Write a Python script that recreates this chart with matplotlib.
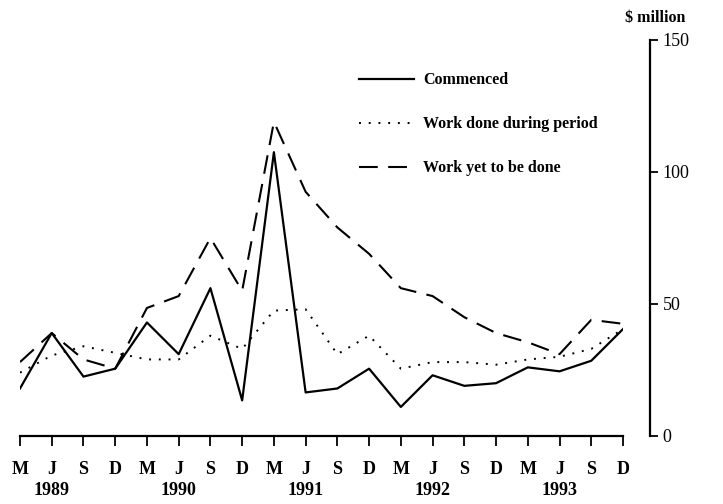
import matplotlib
matplotlib.use("Agg")
import matplotlib.pyplot as plt

quarters = ["M", "J", "S", "D"] * 5
years = ["1989", "1990", "1991", "1992", "1993"]

commenced = [18, 39, 22.5, 25.5, 43, 31, 56, 13.5, 107.5, 16.5, 18,
             25.5, 11, 23, 19, 20, 26, 24.5, 28.5, 40.5]
work_done = [24, 30.5, 34, 31.5, 29, 29, 38, 33, 47.5, 48, 31,
             38, 25.5, 28, 28, 27, 29, 30, 33, 40.5]
work_yet = [28, 39, 29, 25.5, 48.5, 53, 75, 55, 119, 92.5, 79,
            69, 56, 53, 45, 39, 35.5, 31, 44, 42.5]

plt.rcParams['font.family'] = ['Liberation Serif', 'DejaVu Serif']

W, H = 723, 504
fig = plt.figure(figsize=(W / 100, H / 100), dpi=100)
x0_px, x1_px = 20, 623
y0_px, y150_px = 436, 40
ax = fig.add_axes([x0_px / W, (H - y0_px) / H, (x1_px - x0_px) / W, (y0_px - y150_px) / H])

x = list(range(len(commenced)))
ax.plot(x, commenced, color='black', lw=1.6, ls='-', label='Commenced')
ax.plot(x, work_done, color='black', lw=1.4, ls=(0, (1, 4)), label='Work done during period')
ax.plot(x, work_yet, color='black', lw=1.5, ls=(0, (9, 5)), label='Work yet to be done')

ax.set_xlim(0, 19)
ax.set_ylim(0, 150)

# x axis
labels = []
for i, q in enumerate(quarters):
    if q == "J":
        labels.append(q + "\n" + years[i // 4])
    else:
        labels.append(q)
ax.set_xticks(x)
ax.set_xticklabels(labels, fontsize=13, fontweight='bold', linespacing=1.3)
ax.tick_params(axis='x', direction='out', length=7, width=1.3, pad=11)
ax.spines['bottom'].set_bounds(0, 19)
ax.spines['bottom'].set_linewidth(1.6)
ax.spines['top'].set_visible(False)
ax.spines['left'].set_visible(False)
ax.tick_params(axis='y', left=False, labelleft=False, right=True, labelright=True,
               direction='out', length=6, width=1.3, labelsize=13, pad=3)
ax.set_yticks([0, 50, 100, 150])
for t in ax.get_yticklabels():
    t.set_fontweight('bold')
right_x = 19 + (650 - x1_px) / ((x1_px - x0_px) / 19)
ax.spines['right'].set_position(('data', right_x))
ax.spines['right'].set_linewidth(1.6)
fig.text(655 / W, 1 - 18 / H, "$ million", fontsize=11.5, fontweight='bold',
         ha='center', va='center')

leg = ax.legend(loc='upper left', bbox_to_anchor=(345 / W, 1 - 58 / H),
                bbox_transform=fig.transFigure, frameon=False, fontsize=11.5,
                handlelength=3.4, handletextpad=0.6, labelspacing=1.75)
for t in leg.get_texts():
    t.set_fontweight('bold')

fig.savefig("out.png", dpi=100)
